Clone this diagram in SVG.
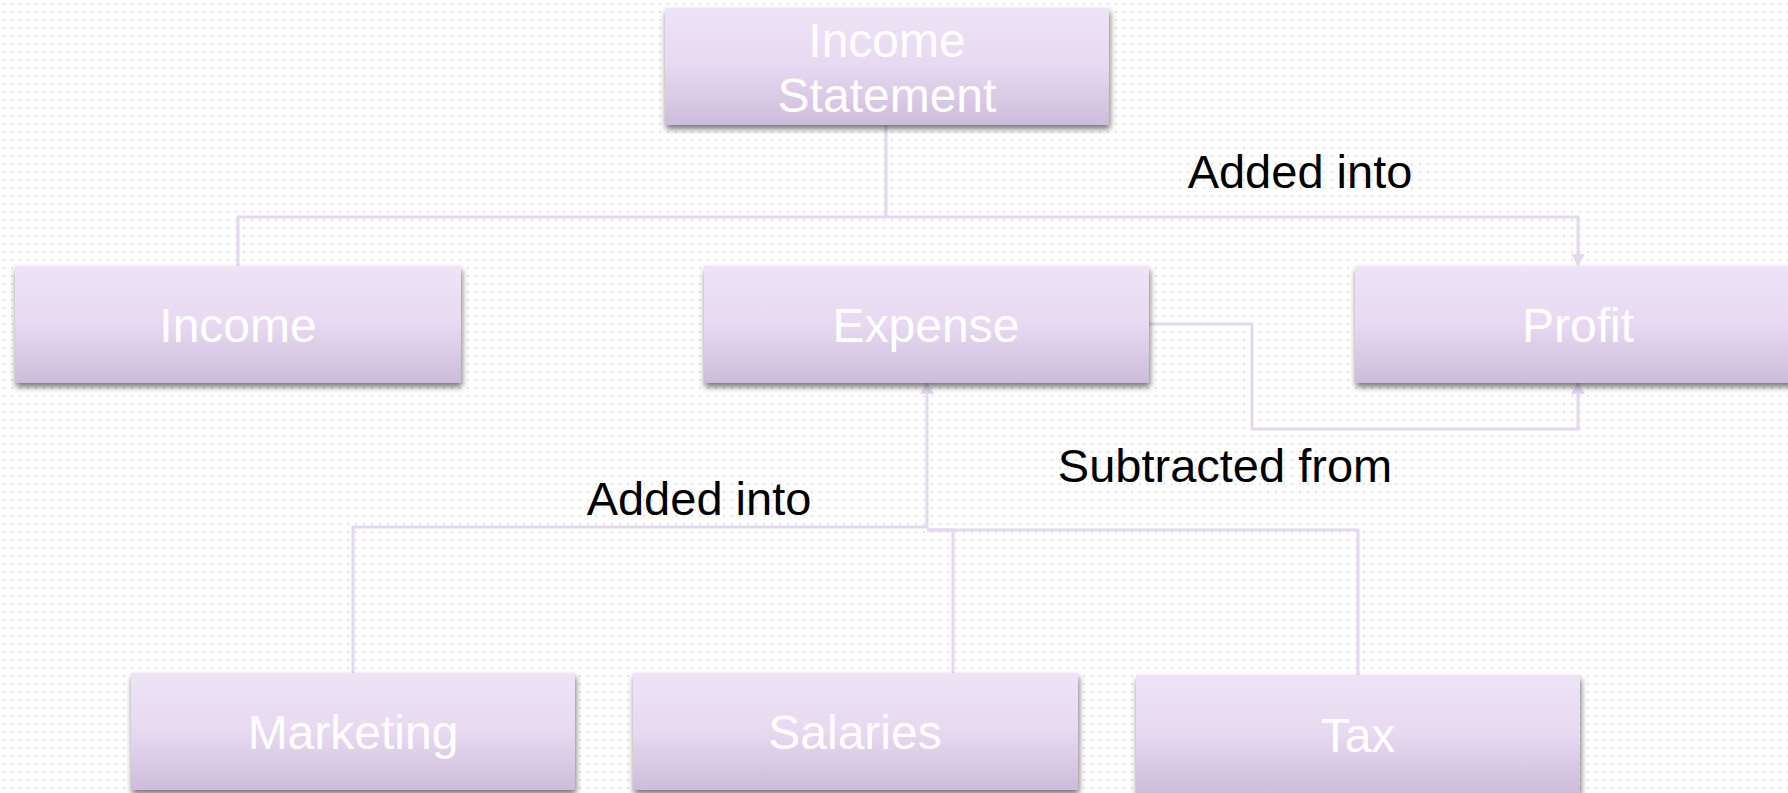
<svg xmlns="http://www.w3.org/2000/svg" width="1788" height="793" viewBox="0 0 1788 793">
<defs>
<pattern id="dots" x="0" y="0" width="8" height="8" patternUnits="userSpaceOnUse">
<rect width="8" height="8" fill="#ffffff"/>
<rect x="3" y="3" width="2" height="2" fill="#e4e4e4"/>
</pattern>
<linearGradient id="g" x1="0" y1="0" x2="0" y2="1">
<stop offset="0" stop-color="#eee4f6"/>
<stop offset="0.5" stop-color="#e7d9f1"/>
<stop offset="1" stop-color="#cdbcda"/>
</linearGradient>
<filter id="sh" x="-5%" y="-10%" width="110%" height="130%">
<feDropShadow dx="1" dy="4" stdDeviation="3" flood-color="#000" flood-opacity="0.55"/>
</filter>
<marker id="arr" viewBox="0 0 12 14" refX="11" refY="7" markerWidth="12" markerHeight="14" markerUnits="userSpaceOnUse" orient="auto">
<path d="M0,0 L12,7 L0,14 Z" fill="#e4d7f0"/>
</marker>
</defs>
<style>
.box{fill:url(#g);filter:url(#sh);}
.nt{font-family:"Liberation Sans",Arial,sans-serif;font-size:48px;fill:#ffffff;text-anchor:middle;}
.lb{font-family:"Liberation Sans",Arial,sans-serif;font-size:47px;fill:#000000;text-anchor:middle;}
.c{fill:none;stroke:#e4d7f0;stroke-width:3;}
</style>
<rect width="1788" height="793" fill="url(#dots)"/>
<g id="connectors">
<path class="c" d="M886,124 V217 H238 V266"/>
<path class="c" d="M886,217 H1578 V265" marker-end="url(#arr)"/>
<path class="c" d="M1149,324 H1252 V429 H1578 V383" marker-end="url(#arr)"/>
<path class="c" d="M353,673 V527 H927 V383" marker-end="url(#arr)"/>
<path class="c" d="M953,673 V530 H927"/>
<path class="c" d="M1358,675 V530 H927"/>
</g>
<g id="node-income-statement">
<rect class="box" x="665" y="8" width="444" height="117"/>
<text class="nt" x="887" y="57">Income</text>
<text class="nt" x="887" y="112">Statement</text>
</g>
<g id="node-income">
<rect class="box" x="15" y="266" width="446" height="117"/>
<text class="nt" x="238" y="342">Income</text>
</g>
<g id="node-expense">
<rect class="box" x="704" y="266" width="445" height="117"/>
<text class="nt" x="926" y="342">Expense</text>
</g>
<g id="node-profit">
<rect class="box" x="1355" y="266" width="445" height="117"/>
<text class="nt" x="1578" y="342">Profit</text>
</g>
<g id="node-marketing">
<rect class="box" x="131" y="673" width="444" height="117"/>
<text class="nt" x="353" y="749">Marketing</text>
</g>
<g id="node-salaries">
<rect class="box" x="633" y="673" width="445" height="117"/>
<text class="nt" x="855" y="749">Salaries</text>
</g>
<g id="node-tax">
<rect class="box" x="1136" y="675" width="444" height="118"/>
<text class="nt" x="1358" y="752">Tax</text>
</g>
<g id="labels">
<text class="lb" x="1300" y="188">Added into</text>
<text class="lb" x="1225" y="482">Subtracted from</text>
<text class="lb" x="699" y="515">Added into</text>
</g>
</svg>
